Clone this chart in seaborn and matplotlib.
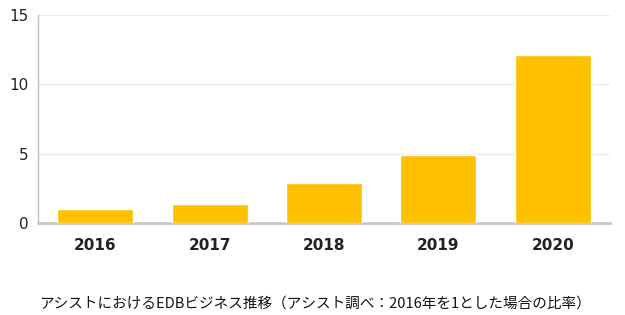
import matplotlib
matplotlib.use("Agg")
import matplotlib.pyplot as plt
import seaborn as sns
import pandas as pd

years = ["2016", "2017", "2018", "2019", "2020"]
values = [1.0, 1.35, 2.88, 4.9, 12.1]
yticks = [0, 5, 10, 15]
caption = "アシストにおけるEDBビジネス推移（アシスト調べ：2016年を1とした場合の比率）"

sns.set_theme(style="white")
plt.rcParams['font.family'] = ['Noto Sans CJK JP', 'DejaVu Sans']

df = pd.DataFrame({"year": years, "value": values})

fig = plt.figure(figsize=(6.25, 3.15), dpi=100)
ax = fig.add_axes([0.0608, 0.292, 0.976 - 0.0608, 0.952 - 0.292])
sns.barplot(data=df, x="year", y="value", color="#FFC000", width=0.665,
            saturation=1, ax=ax, zorder=3)
ax.set_ylim(0, 15)
ax.set_yticks(yticks)
ax.set_yticklabels([str(t) for t in yticks], fontsize=11, color="#222222",
                   family=['DejaVu Sans'])
ax.set_xlabel("")
ax.set_ylabel("")
ax.grid(axis="y", color="#ececec", linewidth=1, zorder=0)
ax.grid(axis="x", visible=False)
for s in ["top", "right"]:
    ax.spines[s].set_visible(False)
ax.spines["left"].set_color("#bfbfbf")
ax.spines["left"].set_linewidth(1)
ax.spines["bottom"].set_color("#c8c8c8")
ax.spines["bottom"].set_linewidth(2)
ax.tick_params(axis="x", length=0, pad=11)
ax.tick_params(axis="y", length=0, pad=7)
for lbl in ax.get_xticklabels():
    lbl.set_fontweight("bold")
    lbl.set_fontsize(11)
    lbl.set_color("#222222")
    lbl.set_family(['DejaVu Sans'])

fig.text(0.5 + 3 / 625, 1 - 304 / 315, caption, ha="center", va="center",
         fontsize=10.5, color="#111111")
fig.savefig("out.png", dpi=100)
